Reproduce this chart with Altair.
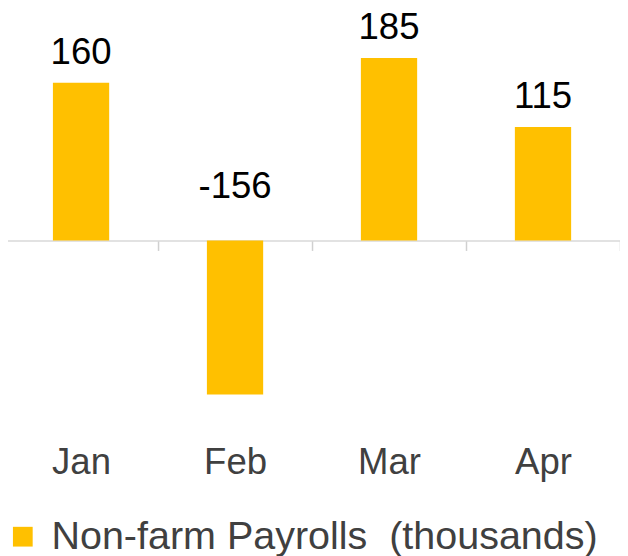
import altair as alt
import pandas as pd

months = ["Jan", "Feb", "Mar", "Apr"]
values = [160, -156, 185, 115]
series_name = "Non-farm Payrolls\u00a0\u00a0(thousands)"

df = pd.DataFrame({"month": months, "value": values, "series": [series_name] * 4})

FONT = "Liberation Sans"
GOLD = "#FFC000"

x = alt.X(
    "month:N",
    sort=months,
    scale=alt.Scale(paddingInner=0, paddingOuter=0),
    axis=alt.Axis(
        title=None,
        orient="bottom",
        offset=-308,
        tickBand="extent",
        domainColor="#d9d9d9",
        domainWidth=1.5,
        tickColor="#d0d0d0",
        tickWidth=1.5,
        tickSize=10,
        labelPadding=197,
        labelFontSize=37,
        labelFont=FONT,
        labelColor="#404040",
        labelAngle=0,
    ),
)

yscale = alt.Scale(domain=[-308, 240], nice=False, zero=False)

bars = alt.Chart(df).mark_bar(size=57).encode(
    x=x,
    y=alt.Y("value:Q", scale=yscale, axis=None),
    y2=alt.datum(0),
    color=alt.Color(
        "series:N",
        scale=alt.Scale(domain=[series_name], range=[GOLD]),
        legend=alt.Legend(
            title=None,
            orient="none",
            legendX=-1,
            legendY=520,
            symbolType="square",
            symbolSize=400,
            symbolStrokeWidth=0,
            symbolOpacity=1,
            labelFontSize=40,
            labelFont=FONT,
            labelColor="#404040",
            labelOffset=9,
            padding=0,
            labelLimit=800,
        ),
    ),
)

labels = alt.Chart(df).transform_calculate(
    label_pos="datum.value < 0 ? 24 : datum.value",
    label_txt="'' + datum.value",
).mark_text(
    baseline="alphabetic", dy=-19, fontSize=37, font=FONT, color="#000000"
).encode(
    x=alt.X("month:N", sort=months),
    y=alt.Y("label_pos:Q", scale=yscale, axis=None),
    text=alt.Text("label_txt:N"),
)

chart = (
    alt.layer(bars, labels)
    .properties(
        width=624,
        height=548,
        autosize=alt.AutoSizeParams(type="none"),
        padding={"left": -4, "top": -8, "right": 0, "bottom": 12},
    )
    .configure_view(stroke=None)
)

chart.save("out.html", embed_options={"renderer": "svg", "actions": False})
